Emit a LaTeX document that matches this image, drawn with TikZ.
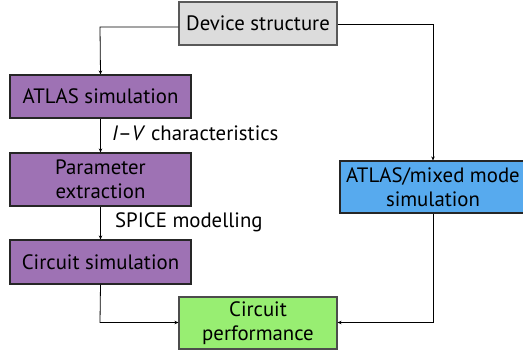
\documentclass[tikz,border=0pt]{standalone}
\usepackage{fontspec}
\setmainfont{PT Sans}
\usetikzlibrary{arrows.meta}
\definecolor{grayfill}{HTML}{DCDCDC}
\definecolor{purplefill}{HTML}{9E72B4}
\definecolor{bluefill}{HTML}{57AAEE}
\definecolor{greenfill}{HTML}{98EE72}
\tikzset{
  box/.style={draw=black!85, line width=1.1pt, inner sep=0pt, align=center, font=\fontsize{20.8}{24}\selectfont, text=black},
  conn/.style={line width=0.8pt, -{Stealth[length=4pt,width=3.5pt]}},
  lbl/.style={font=\fontsize{20.8}{24}\selectfont, anchor=west, inner sep=0pt}
}
\begin{document}
\begin{tikzpicture}[x=1pt,y=-1pt]
\useasboundingbox (0,0) rectangle (523,351);
\clip (0,0) rectangle (523,351);
\node[box, draw=black!65, fill=grayfill, minimum width=158pt, minimum height=43pt] (dev) at (258,23.5) {Device structure};
\node[box, fill=purplefill, minimum width=181pt, minimum height=43pt] (atlas) at (100.5,96.5) {ATLAS simulation};
\node[box, fill=purplefill, minimum width=181pt, minimum height=53pt] (param) at (100.5,179.5) {Parameter\\extraction};
\node[box, fill=purplefill, minimum width=181pt, minimum height=44pt] (circ) at (100.5,262) {Circuit simulation};
\node[box, draw=black!70, fill=greenfill, minimum width=158pt, minimum height=52pt] (perf) at (258,323) {Circuit\\performance};
\node[box, fill=bluefill, minimum width=186pt, minimum height=52pt] (mixed) at (433,187) {ATLAS/mixed mode\\simulation};
\coordinate (c1) at (100,27);
\coordinate (c2) at (433,24);
\coordinate (c3) at (433,322.5);
\coordinate (c4) at (100,322.5);
\draw[conn] (dev.west |- c1) -- (c1) -- (atlas.north);
\draw[conn] (dev.east |- c2) -- (c2) -- (mixed.north);
\draw[conn] (atlas.south) -- (param.north);
\draw[conn] (param.south) -- (circ.north);
\draw[conn] (mixed.south) -- (c3) -- (perf.east |- c3);
\draw[conn] (circ.south) -- (c4) -- (perf.west |- c4);
\node[lbl] (iv) at (112,133) {\textit{I}--\textit{V} characteristics};
\node[lbl] (spice) at (115,222) {SPICE modelling};
\end{tikzpicture}
\end{document}
